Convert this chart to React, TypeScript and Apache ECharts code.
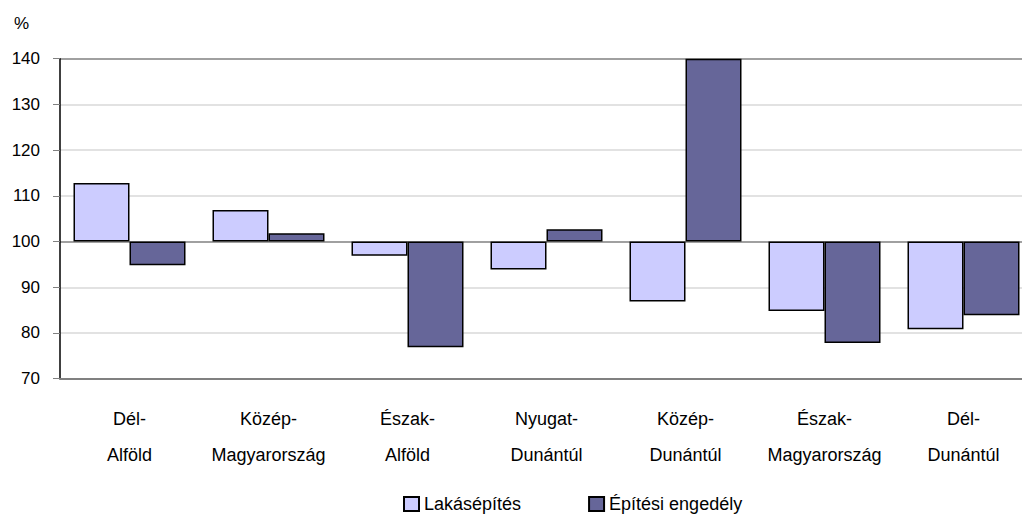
import React, { useEffect, useRef } from 'react';
import * as echarts from 'echarts';

const categories = [
  'Dél-\nAlföld',
  'Közép-\nMagyarország',
  'Észak-\nAlföld',
  'Nyugat-\nDunántúl',
  'Közép-\nDunántúl',
  'Észak-\nMagyarország',
  'Dél-\nDunántúl',
];
const lakasepites = [112.8, 106.9, 96.9, 93.9, 86.9, 84.8, 80.8];
const engedely = [94.8, 101.8, 76.9, 102.7, 140, 77.8, 83.9];
const seriesNames = ['Lakásépítés', 'Építési engedély'];
const yMin = 70;
const yMax = 140;
const yStep = 10;
const baseline = 100;
const unitLabel = '%';

const FONT = '"Liberation Sans", Arial, sans-serif';

export default function App() {
  const ref = useRef<HTMLDivElement>(null);
  useEffect(() => {
    if (!ref.current) return;
    const chart = echarts.init(ref.current, undefined, { renderer: 'svg' });
    const baseOf = (arr: number[]) => arr.map((v) => Math.min(v, baseline));
    const deltaOf = (arr: number[]) => arr.map((v) => Math.abs(v - baseline));
    const common = { type: 'bar', barWidth: 56, barGap: '0%' };
    const grid = '#d9d9d9';
    const dark = '#808080';
    chart.setOption({
      animation: false,
      textStyle: { fontFamily: FONT },
      grid: { left: 60, top: 58.7, width: 973, height: 320, outerBoundsMode: 'none', containLabel: false },
      graphic: [
        {
          type: 'text',
          left: 14,
          top: 15,
          style: { text: unitLabel, fontSize: 17, fill: '#000', fontFamily: FONT },
        },
      ],
      legend: {
        data: seriesNames,
        left: 398,
        top: 490,
        itemWidth: 15,
        itemHeight: 14,
        itemGap: 67,
        icon: 'rect',
        textStyle: { fontSize: 18, color: '#000', fontFamily: FONT },
      },
      xAxis: {
        type: 'category',
        data: categories,
        axisLine: { lineStyle: { color: dark, width: 2 } },
        axisTick: { show: false },
        axisLabel: {
          interval: 0,
          fontSize: 18,
          lineHeight: 36,
          margin: 22,
          color: '#000',
          fontFamily: FONT,
        },
      },
      yAxis: {
        type: 'value',
        min: yMin,
        max: yMax,
        interval: yStep,
        axisLine: { show: true, lineStyle: { color: '#000', width: 1.5 } },
        axisTick: { show: true, length: 7, lineStyle: { color: dark } },
        axisLabel: {
          fontSize: 17,
          color: '#000',
          margin: 20,
          padding: [0, 0, 8, 0],
          fontFamily: FONT,
        },
        splitLine: {
          show: true,
          lineStyle: {
            color: [dark, grid, grid, dark, grid, grid, grid, dark],
            width: 1.5,
          },
        },
      },
      series: [
        {
          ...common,
          name: 'base1',
          stack: 'l',
          silent: true,
          data: baseOf(lakasepites),
          itemStyle: { color: 'rgba(0,0,0,0)', borderWidth: 0 },
        },
        {
          ...common,
          name: seriesNames[0],
          stack: 'l',
          data: deltaOf(lakasepites),
          itemStyle: { color: '#CCCCFF', borderColor: '#000', borderWidth: 1.5 },
        },
        {
          ...common,
          name: 'base2',
          stack: 'e',
          silent: true,
          data: baseOf(engedely),
          itemStyle: { color: 'rgba(0,0,0,0)', borderWidth: 0 },
        },
        {
          ...common,
          name: seriesNames[1],
          stack: 'e',
          data: deltaOf(engedely),
          itemStyle: { color: '#666699', borderColor: '#000', borderWidth: 1.5 },
        },
      ],
    });
    return () => chart.dispose();
  }, []);
  return (
    <div
      ref={ref}
      style={{ position: 'fixed', left: 0, top: 0, width: 1022, height: 514, background: '#fff' }}
    />
  );
}
